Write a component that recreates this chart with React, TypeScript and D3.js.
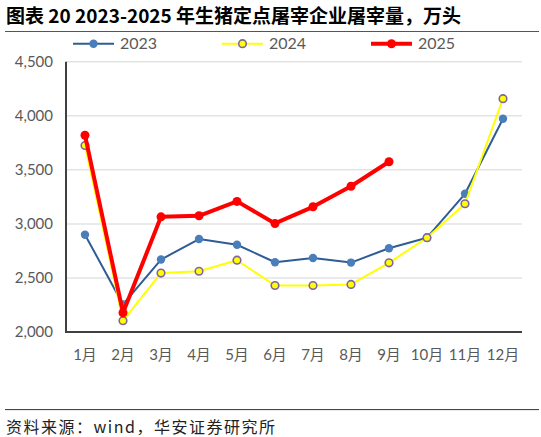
import { useEffect, useRef } from "react";
import * as d3 from "d3";

// Monthly slaughter volume at designated plants (万头)
const months = ["1月", "2月", "3月", "4月", "5月", "6月", "7月", "8月", "9月", "10月", "11月", "12月"];
const values2023 = [2900, 2255, 2670, 2860, 2807, 2645, 2685, 2642, 2775, 2872, 3278, 3972];
const values2024 = [3725, 2105, 2545, 2562, 2664, 2430, 2430, 2440, 2640, 2872, 3186, 4158];
const values2025 = [3820, 2178, 3065, 3075, 3208, 3004, 3158, 3348, 3575];
const yTicks = [2000, 2500, 3000, 3500, 4000, 4500];

const FONT = "Lato, 'Noto Sans CJK SC', sans-serif";
const CJK = "'Noto Sans CJK SC', sans-serif";

export default function App() {
  const ref = useRef(null);

  useEffect(() => {
    const svg = d3.select(ref.current);
    svg.selectAll("*").remove();

    const width = 541;
    const height = 437;

    // plot area
    const left = 66;
    const right = 522;
    const top = 61.7;
    const bottom = 332;

    const x = d3.scaleBand().domain(months).range([left, right]).paddingInner(0);
    const cx = (i) => x(months[i]) + x.bandwidth() / 2;
    const y = d3.scaleLinear().domain([2000, 4500]).range([bottom, top]);

    svg.append("rect").attr("width", width).attr("height", height).attr("fill", "#fff");

    // title
    svg
      .append("text")
      .attr("x", 6)
      .attr("y", 23)
      .attr("font-family", CJK)
      .attr("font-weight", "bold")
      .attr("font-size", "19px")
      .attr("fill", "#000")
      .text("图表 20 2023-2025 年生猪定点屠宰企业屠宰量，万头");

    svg.append("line").attr("x1", 5).attr("x2", 539).attr("y1", 31.5).attr("y2", 31.5)
      .attr("stroke", "#555").attr("stroke-width", 1.2);

    // gridlines
    svg
      .append("g")
      .selectAll("line")
      .data(yTicks.filter((d) => d > 2000))
      .join("line")
      .attr("x1", left)
      .attr("x2", right)
      .attr("y1", (d) => y(d))
      .attr("y2", (d) => y(d))
      .attr("stroke", "#e3e3e3")
      .attr("stroke-width", 1.5);

    // y tick labels
    svg
      .append("g")
      .selectAll("text")
      .data(yTicks)
      .join("text")
      .attr("x", 53)
      .attr("y", (d) => y(d))
      .attr("dy", "0.35em")
      .attr("text-anchor", "end")
      .attr("font-family", FONT)
      .attr("font-size", "15px")
      .attr("fill", "#595959")
      .text((d) => d3.format(",")(d));

    // x tick labels
    svg
      .append("g")
      .selectAll("text")
      .data(months)
      .join("text")
      .attr("x", (d) => x(d) + x.bandwidth() / 2)
      .attr("y", 355)
      .attr("dy", "0.35em")
      .attr("text-anchor", "middle")
      .attr("font-family", FONT)
      .attr("font-size", "15px")
      .attr("fill", "#595959")
      .text((d) => d);

    // axes lines
    svg.append("line").attr("x1", left).attr("x2", left).attr("y1", top).attr("y2", bottom)
      .attr("stroke", "#404040").attr("stroke-width", 2);
    svg.append("line").attr("x1", left - 1).attr("x2", right).attr("y1", bottom).attr("y2", bottom)
      .attr("stroke", "#404040").attr("stroke-width", 2);

    const series = [
      { name: "2023", values: values2023, line: "#2F5C95", width: 2, marker: "#4A7EBB", stroke: "none", r: 4.2, sw: 0 },
      { name: "2024", values: values2024, line: "#FFFF00", width: 2, marker: "#FFFF00", stroke: "#8064A2", r: 3.8, sw: 1.6 },
      { name: "2025", values: values2025, line: "#FF0000", width: 4, marker: "#FF0000", stroke: "none", r: 4.5, sw: 0 },
    ];

    const line = d3
      .line()
      .x((_d, i) => cx(i))
      .y((d) => y(d));

    series.forEach((s) => {
      svg
        .append("path")
        .datum(s.values)
        .attr("d", line)
        .attr("fill", "none")
        .attr("stroke", s.line)
        .attr("stroke-width", s.width)
        .attr("stroke-linejoin", "round");
      svg
        .append("g")
        .selectAll("circle")
        .data(s.values)
        .join("circle")
        .attr("cx", (_d, i) => cx(i))
        .attr("cy", (d) => y(d))
        .attr("r", s.r)
        .attr("fill", s.marker)
        .attr("stroke", s.stroke)
        .attr("stroke-width", s.sw);
    });

    // legend
    const legendX = [73, 222, 371];
    series.forEach((s, i) => {
      const g = svg.append("g").attr("transform", `translate(${legendX[i]},43.7)`);
      g.append("line").attr("x1", 0).attr("x2", 41).attr("stroke", s.line).attr("stroke-width", s.width);
      g.append("circle").attr("cx", 20.5).attr("r", s.r).attr("fill", s.marker)
        .attr("stroke", s.stroke).attr("stroke-width", s.sw);
      g.append("text")
        .attr("x", 47)
        .attr("dy", "0.35em")
        .attr("font-family", FONT)
        .attr("font-size", "16px")
        .attr("fill", "#595959")
        .text(s.name);
    });

    // footer
    svg.append("line").attr("x1", 5).attr("x2", 539).attr("y1", 409.6).attr("y2", 409.6)
      .attr("stroke", "#333").attr("stroke-width", 1);
    svg
      .append("text")
      .attr("x", 6)
      .attr("y", 427)
      .attr("dy", "0.35em")
      .attr("font-family", CJK)
      .attr("font-size", "16px")
      .attr("letter-spacing", "1.5px")
      .attr("fill", "#222")
      .text("资料来源：wind，华安证券研究所");
  }, []);

  return (
    <svg
      ref={ref}
      width={541}
      height={437}
      style={{ position: "absolute", left: 0, top: 0, display: "block" }}
    />
  );
}
